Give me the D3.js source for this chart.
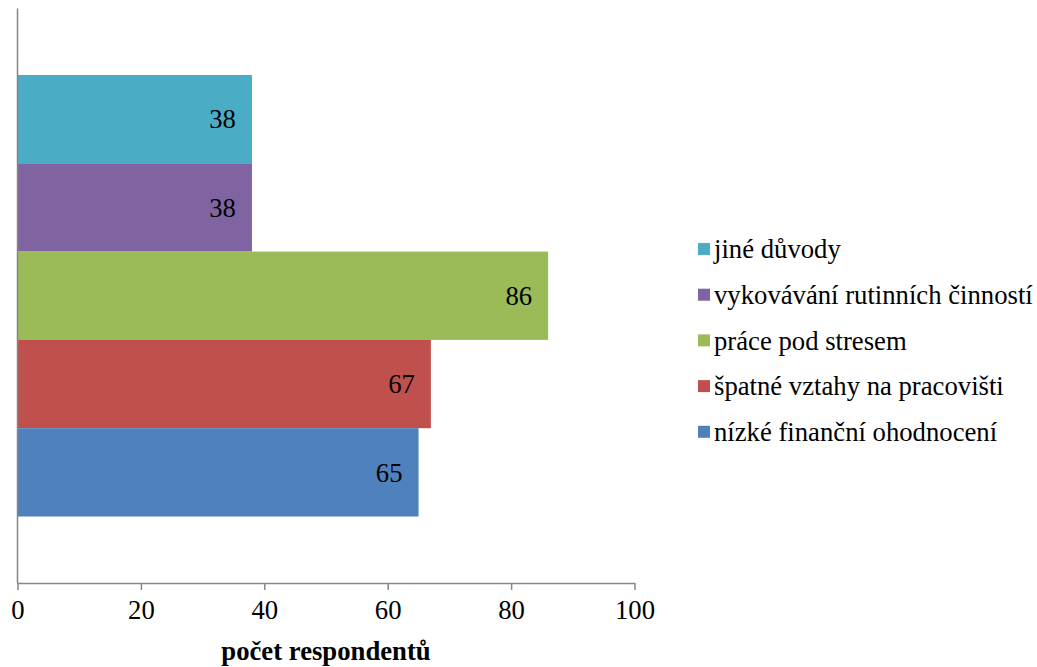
<!DOCTYPE html>
<html>
<head>
<meta charset="utf-8">
<script src="https://cdn.jsdelivr.net/npm/d3@7"></script>
<style>
  html, body { margin: 0; padding: 0; background: #fff; }
  svg { display: block; }
</style>
</head>
<body>
<svg id="chart" width="1037" height="667"></svg>
<script>
// Reasons, listed top to bottom as drawn
const reasons = [
  "jiné důvody",
  "vykovávání rutinních činností",
  "práce pod stresem",
  "špatné vztahy na pracovišti",
  "nízké finanční ohodnocení"
];
const counts = [38, 38, 86, 67, 65];
const colors = ["#4BACC6", "#8064A2", "#9BBB59", "#C0504D", "#4F81BD"];
const xTicks = [0, 20, 40, 60, 80, 100];
const xTitle = "počet respondentů";

const FONT = "'Liberation Serif', 'DejaVu Serif', serif";
const FSIZE = "26.7px";

const svg = d3.select("#chart");
const plot = { left: 17.5, right: 634.5, top: 8.5, bottom: 583 };

const x = d3.scaleLinear().domain([0, 100]).range([plot.left, plot.right]);
const y = d3.scaleBand().domain(reasons).range([plot.top, plot.bottom])
  .paddingInner(0).paddingOuter(0.753);

// bars
svg.append("g").selectAll("rect")
  .data(reasons)
  .join("rect")
  .attr("x", x(0))
  .attr("y", d => y(d))
  .attr("width", (d, i) => x(counts[i]) - x(0))
  .attr("height", y.bandwidth())
  .attr("fill", (d, i) => colors[i]);

// value labels, inside the bar end
svg.append("g").selectAll("text")
  .data(reasons)
  .join("text")
  .attr("x", (d, i) => x(counts[i]) - 16)
  .attr("y", d => y(d) + y.bandwidth() / 2)
  .attr("dy", "0.35em")
  .attr("text-anchor", "end")
  .style("font-family", FONT)
  .style("font-size", FSIZE)
  .attr("fill", "#000")
  .text((d, i) => counts[i]);

// x axis
const xAxis = svg.append("g")
  .attr("transform", `translate(0,${plot.bottom})`)
  .call(d3.axisBottom(x).tickValues(xTicks).tickSize(7).tickSizeOuter(0).tickPadding(10));
xAxis.select(".domain").attr("stroke", "#868686").attr("stroke-width", 1.5);
xAxis.selectAll(".tick line").attr("stroke", "#868686").attr("stroke-width", 1.5);
xAxis.selectAll(".tick text")
  .style("font-size", FSIZE)
  .style("font-family", FONT)
  .attr("fill", "#000");

// y axis line
svg.append("line")
  .attr("x1", plot.left).attr("x2", plot.left)
  .attr("y1", plot.top).attr("y2", plot.bottom)
  .attr("stroke", "#868686").attr("stroke-width", 1.5);

// axis title
svg.append("text")
  .attr("x", (plot.left + plot.right) / 2)
  .attr("y", 660)
  .attr("text-anchor", "middle")
  .style("font-family", FONT)
  .style("font-size", FSIZE)
  .style("font-weight", "bold")
  .attr("fill", "#000")
  .text(xTitle);

// legend
const legend = svg.append("g").selectAll("g")
  .data(reasons)
  .join("g")
  .attr("transform", (d, i) => `translate(698,${249 + i * 45.7})`);
legend.append("rect")
  .attr("x", 0).attr("y", -6)
  .attr("width", 12).attr("height", 12)
  .attr("fill", (d, i) => colors[i]);
legend.append("text")
  .attr("x", 16)
  .attr("y", 0)
  .attr("dy", "0.35em")
  .style("font-family", FONT)
  .style("font-size", FSIZE)
  .attr("fill", "#000")
  .text(d => d);
</script>
</body>
</html>
